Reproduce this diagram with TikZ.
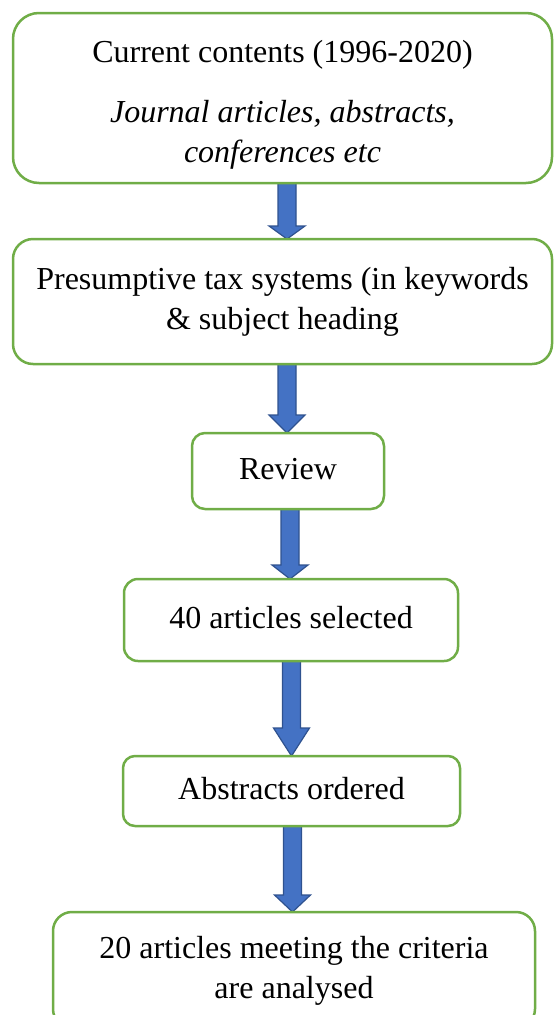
\documentclass[tikz,border=0pt]{standalone}
\usepackage{fontspec}
\setmainfont{Liberation Serif}
\usetikzlibrary{calc,backgrounds}

\definecolor{boxgreen}{HTML}{70AD47}
\definecolor{arrowfill}{HTML}{4472C4}
\definecolor{arrowline}{HTML}{2F528F}

\tikzset{
  stage/.style={draw=boxgreen, line width=2.5pt, rounded corners=#1, inner sep=0pt,
    outer sep=0pt, align=center, font=\fontsize{32}{40}\selectfont},
  stage/.default=14pt,
  blockarrow/.style={fill=arrowfill, draw=arrowline, line width=1.2pt, line join=miter}
}

% block arrow: from, to, x shift, head length
\newcommand{\flowarrow}[4]{%
  \path let \p1=([xshift=#3]#1.south), \p2=(#2.north) in
    [blockarrow] (\x1-9pt,\y1) -- (\x1+9pt,\y1) -- (\x1+9pt,\y2+#4) -- (\x1+18pt,\y2+#4)
    -- (\x1,\y2) -- (\x1-18pt,\y2+#4) -- (\x1-9pt,\y2+#4) -- cycle;}

\begin{document}
\begin{tikzpicture}[x=1pt, y=-1pt]
  \useasboundingbox (0,0) rectangle (554,1015);
  \clip (0,0) rectangle (554,1015);

  % stages
  \node[stage=26pt, minimum width=539pt, minimum height=170pt] (contents) at (282.5,98)
    {\rule{0pt}{36pt}Current contents (1996-2020)\\[20pt]
     \textit{Journal articles, abstracts,}\\ \textit{conferences etc}};
  \node[stage=20pt, minimum width=539pt, minimum height=125pt] (keywords) at (282.5,301.5)
    {\strut Presumptive tax systems (in keywords\\ \& subject heading\strut};
  \node[stage=13pt, minimum width=192pt, minimum height=76pt] (review) at (288,471)
    {\strut Review\strut};
  \node[stage, minimum width=334pt, minimum height=82pt] (selected) at (291,620)
    {\strut 40 articles selected\strut};
  \node[stage=12pt, minimum width=337pt, minimum height=70pt] (ordered) at (291.5,791)
    {\strut Abstracts ordered\strut};
  \node[stage=19pt, minimum width=482pt, minimum height=116pt] (analysed) at (294,970)
    {\strut 20 articles meeting the criteria\\ are analysed\strut};

  % arrows
  \begin{pgfonlayer}{background}
    \flowarrow{contents}{keywords}{4.5pt}{13pt}
    \flowarrow{keywords}{review}{4.5pt}{18pt}
    \flowarrow{review}{selected}{2pt}{14pt}
    \flowarrow{selected}{ordered}{0.5pt}{28pt}
    \flowarrow{ordered}{analysed}{1pt}{17pt}
  \end{pgfonlayer}
\end{tikzpicture}
\end{document}
